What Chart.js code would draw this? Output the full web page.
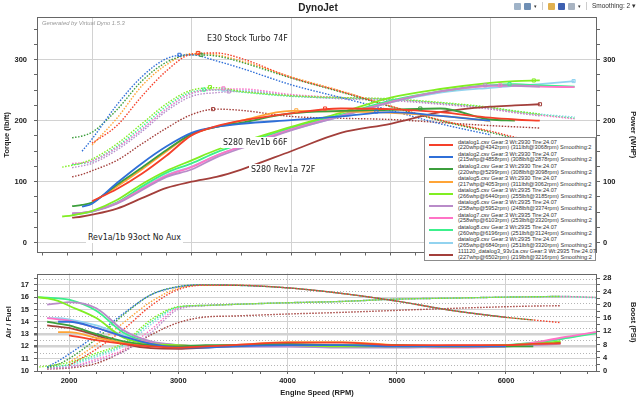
<!DOCTYPE html>
<html>
<head>
<meta charset="utf-8">
<script src="https://cdn.jsdelivr.net/npm/chart.js@4.4.0/dist/chart.umd.min.js"></script>
<style>
  html, body { margin: 0; padding: 0; background: #fff; }
  #wrap { position: relative; width: 640px; height: 399px; overflow: hidden; font-family: "Liberation Sans", Arial, sans-serif; }
  canvas { position: absolute; left: 0; }
  #topChart { top: 0; }
  #bottomChart { top: 264px; }
  .title { position: absolute; left: 0; width: 636px; top: 2px; text-align: center; font-weight: bold; font-size: 10px; color: #222; }
  .gen { position: absolute; left: 42px; top: 20px; font-style: italic; font-size: 5.8px; color: #999; }
  .tools { position: absolute; right: 4px; top: 2px; font-size: 6.5px; color: #333; display: flex; align-items: center; gap: 3px; }
  .ico { display: inline-block; width: 7px; height: 7px; border-radius: 1px; }
  .sep { display: inline-block; width: 1px; height: 8px; background: #ccc; margin: 0 2px; }
  .note { position: absolute; background: #fff; font-family: "Liberation Sans Narrow", "DejaVu Sans Condensed", sans-serif; font-size: 8.8px; line-height: 11px; padding: 0 2px; color: #222; white-space: nowrap; }
  #legend { position: absolute; left: 424px; top: 137px; width: 172px; height: 124px; background: #fff; border: 1px solid #8c8c8c; box-sizing: border-box; padding-top: 1px; }
  .row { position: relative; height: 12.2px; }
  .sw { position: absolute; left: 4px; top: 5px; width: 24px; height: 2px; }
  .txt { position: absolute; left: 33px; top: 0.5px; font-size: 5.6px; line-height: 5.8px; color: #333; white-space: nowrap; }
</style>
</head>
<body>
<div id="wrap">
  <canvas id="topChart" width="640" height="264"></canvas>
  <canvas id="bottomChart" width="640" height="135"></canvas>
  <div class="title">DynoJet</div>
  <div class="tools">
    <span class="ico" style="background:#9fb3c8"></span>
    <span class="ico" style="background:#6f8fb5"></span><span style="font-size:5px">▾</span>
    <span class="sep"></span>
    <span class="ico" style="background:#e0b050"></span>
    <span class="ico" style="background:#3d5fb0"></span>
    <span class="ico" style="background:#a9b4c2"></span><span style="font-size:5px">▾</span>
    <span class="sep"></span>
    <span>Smoothing: 2 ▾</span>
  </div>
  <div class="gen">Generated by Virtual Dyno 1.5.3</div>
  <div class="note" style="left:205px; top:33px;">E30 Stock Turbo 74F</div>
  <div class="note" style="left:221px; top:137px;">S280 Rev1b 66F</div>
  <div class="note" style="left:249px; top:164px;">S280 Rev1a 72F</div>
  <div class="note" style="left:86px; top:232px;">Rev1a/1b 93oct No Aux</div>
  <div id="legend"></div>
</div>
<script>
// rpm points shared by every run (null = run not recorded there)
const rpm = [1700, 1800, 1900, 2000, 2250, 2500, 2750, 3000, 3250, 3500, 4000, 4500, 5000, 5500, 6000, 6250, 6500, 6850];

const runFiles = ["datalog1.csv", "datalog2.csv", "datalog3.csv", "datalog5.csv", "datalog5.csv",
  "datalog6.csv", "datalog7.csv", "datalog8.csv", "datalog9.csv", "111120_datalog3_93v1a.csv"];
const runWeights = [2930, 2930, 2930, 2930, 2935, 2935, 2935, 2935, 2935, 2935];
const runColors = ["#f5402a", "#2f6fd8", "#3c9e3c", "#ffa436", "#80ee22",
  "#b98bc9", "#ff73c6", "#3cf08c", "#92d3ef", "#a33f3b"];

const peakPower = [220, 215, 220, 217, 266, 258, 258, 260, 265, 227];
const peakPowerRpm = [4342, 4858, 5299, 4053, 6440, 5952, 6103, 6196, 6840, 6502];
const peakTorque = [311, 308, 308, 311, 255, 248, 253, 251, 251, 219];
const peakTorqueRpm = [3068, 2878, 3098, 3062, 3185, 3374, 3320, 3124, 3320, 3216];

const n = null;
// torque (lb/ft), one row per run
const torqueRuns = [
  [n, n, n, 163, 192, 240, 282, 309, 311, 302, 271, 248, 224, 201, 183, 173, 164, n],
  [n, n, 150, 170, 226, 272, 302, 308, 298, 286, 259, 238, 217, 195, 177, n, n, n],
  [n, 172, 175, 181, 218, 265, 296, 308, 306, 296, 270, 247, 223, 200, 181, 171, n, n],
  [n, n, n, 160, 204, 257, 292, 310, 308, 298, 272, 249, 224, 201, 182, n, n, n],
  [124, 127, 131, 137, 162, 195, 228, 250, 254, 248, 241, 238, 236, 230, 222, 216, 211, n],
  [n, 123, 126, 130, 152, 182, 216, 240, 246, 248, 241, 236, 233, 227, 219, 213, 208, n],
  [n, 130, 131, 134, 156, 186, 220, 245, 251, 252, 243, 238, 235, 228, 220, 214, 209, 203],
  [n, 128, 130, 134, 158, 190, 224, 247, 251, 247, 240, 237, 235, 229, 221, 215, 210, 204],
  [n, 129, 130, 133, 155, 185, 219, 244, 250, 250, 242, 238, 235, 229, 221, 216, 211, 206],
  [n, 108, 112, 118, 135, 162, 188, 210, 219, 217, 207, 204, 202, 197, 192, 190, 188, n]
];
// power (WHP)
const powerRuns = [
  [n, n, n, 68, 88, 113, 143, 176, 191, 200, 212, 220, 219, 214, 205, 202, 200, n],
  [n, n, 59, 64, 98, 130, 158, 180, 190, 195, 201, 207, 214, 208, 200, n, n, n],
  [n, 60, 62, 66, 95, 123, 152, 178, 190, 197, 212, 216, 218, 220, 202, 200, n, n],
  [n, n, n, 66, 92, 120, 150, 178, 190, 200, 216, 215, 213, 208, 200, n, n, n],
  [43, 45, 48, 52, 70, 96, 118, 135, 152, 165, 190, 213, 238, 252, 262, 265, 266, n],
  [n, 48, 49, 51, 64, 86, 108, 120, 140, 155, 184, 207, 230, 248, 258, 257, 256, n],
  [n, 48, 49, 52, 65, 88, 110, 124, 143, 158, 186, 208, 231, 248, 257, 258, 256, 255],
  [n, 46, 48, 51, 66, 92, 115, 130, 148, 162, 188, 210, 233, 248, 258, 260, 258, 256],
  [n, 47, 49, 52, 66, 89, 111, 125, 143, 158, 185, 207, 230, 246, 254, 257, 260, 265],
  [n, 41, 43, 46, 56, 73, 90, 100, 108, 120, 150, 180, 195, 214, 223, 225, 227, n]
];
// air / fuel ratio
const afrRuns = [
  [n, n, n, 12.9, 12.5, 12.2, 12.0, 11.9, 12.0, 12.1, 12.3, 12.3, 12.1, 12.1, 12.1, 12.2, 12.25, n],
  [n, n, 14.0, 14.0, 13.5, 12.8, 12.2, 11.9, 11.9, 12.0, 12.1, 12.1, 12.0, 12.0, 12.0, n, n, n],
  [n, 14.0, 13.85, 13.7, 13.0, 12.4, 12.1, 12.0, 12.1, 12.1, 12.2, 12.1, 12.1, 12.0, 12.0, 12.0, n, n],
  [n, n, 13.15, 13.15, 12.7, 12.3, 12.1, 12.0, 12.0, 12.1, 12.35, 12.35, 12.1, 12.0, 12.0, n, n, n],
  [16.0, 15.9, 15.7, 15.3, 14.3, 12.7, 12.2, 12.1, 12.0, 12.1, 12.1, 12.0, 12.0, 12.0, 12.1, 12.2, 12.4, n],
  [n, 15.4, 15.5, 15.6, 15.1, 13.3, 12.4, 12.1, 12.0, 12.0, 12.0, 11.9, 11.9, 12.0, 12.0, 12.1, 12.2, n],
  [n, 14.3, 14.2, 14.1, 13.5, 12.8, 12.3, 12.1, 12.0, 12.0, 12.0, 11.95, 11.95, 11.9, 12.0, 12.3, 12.7, 13.2],
  [16.0, 15.95, 15.9, 15.8, 14.9, 13.1, 12.3, 12.1, 12.0, 12.0, 12.1, 12.0, 12.0, 12.0, 12.1, 12.3, 12.6, 13.1],
  [n, 14.3, 14.3, 14.2, 13.7, 12.9, 12.3, 12.1, 12.0, 12.0, 12.0, 11.95, 11.95, 11.95, 12.0, 12.2, 12.6, 13.2],
  [n, 13.7, 13.6, 13.5, 12.9, 12.2, 11.85, 11.8, 11.9, 12.0, 12.05, 12.0, 12.0, 12.05, 12.1, 12.2, 12.3, n]
];
// boost (PSI)
const boostRuns = [
  [n, n, n, 1.7, 6.6, 12.6, 19.7, 24.6, 25.9, 25.9, 25.1, 23.4, 21.1, 18.3, 16.2, 15.4, 14.6, n],
  [n, 1.2, 3.0, 5.1, 10.9, 17.4, 23.0, 25.4, 26.0, 25.9, 25.1, 23.4, 21.1, 18.3, 16.2, n, n, n],
  [n, 1.0, 2.0, 3.7, 9.7, 17.0, 23.0, 25.5, 26.0, 25.9, 25.1, 23.4, 21.1, 18.3, 16.2, 15.4, n, n],
  [n, n, n, 2.6, 8.0, 14.6, 20.9, 25.0, 25.9, 25.9, 25.1, 23.4, 21.1, 18.3, 16.2, n, n, n],
  [1.1, 1.5, 2.0, 2.6, 5.4, 8.5, 15.5, 19.4, 19.8, 20.1, 20.6, 21.0, 21.7, 22.0, 22.3, 22.4, 22.5, n],
  [n, 0.7, 0.9, 1.1, 3.0, 5.8, 11.5, 18.6, 19.7, 20.1, 20.6, 21.0, 21.7, 22.0, 22.3, 22.4, 22.5, n],
  [n, 0.8, 1.0, 1.2, 3.5, 6.5, 12.5, 19.0, 19.8, 20.1, 20.6, 21.0, 21.7, 22.0, 22.3, 22.4, 22.5, 22.2],
  [n, 1.0, 1.4, 2.0, 4.8, 8.0, 14.8, 19.3, 19.8, 20.1, 20.6, 21.0, 21.7, 22.0, 22.3, 22.4, 22.5, 22.2],
  [n, 0.9, 1.2, 1.6, 4.2, 7.5, 14.0, 19.2, 19.8, 20.1, 20.6, 21.0, 21.7, 22.0, 22.3, 22.4, 22.5, 22.0],
  [n, 0.6, 0.7, 0.9, 2.3, 6.0, 10.9, 14.6, 16.3, 16.6, 17.2, 17.7, 18.3, 18.9, 19.4, 19.6, 19.7, n]
];

// axis ticks
const rpmLabels = [2000, 3000, 4000, 5000, 6000];
const torqueLabels = [0, 100, 200, 300];
const afrLabels = [10, 11, 12, 13, 14, 15, 16, 17];
const boostLabels = [0, 4, 8, 12, 16, 20, 24, 28];

function steps(from, to, step) {
  const out = [];
  for (let v = from; v <= to + 1e-9; v += step) out.push(+v.toFixed(2));
  return out;
}
const topRpmTicks = steps(1500, 7000, 250);
const bottomRpmTicks = steps(1750, 6750, 250);
const torqueTicks = steps(0, 350, 25);
const afrTicks = steps(10, 17.5, 0.5);
const boostTicks = steps(0, 28, 2);

const tickFont = { family: "Liberation Sans, Arial, sans-serif", size: 7.5, weight: "bold" };
const GRID = "#d2d2d2";

function series(values) {
  return rpm.map((r, j) => ({ x: r, y: values[j] }));
}
function setTicks(list) {
  return axis => { axis.ticks = list.map(v => ({ value: v })); };
}

// frame around the plot area + optional dotted half lines
const framePlugin = {
  id: "frame",
  beforeDatasetsDraw(chart, args, opts) {
    if (!opts.dotted) return;
    const { ctx, chartArea: a } = chart;
    const s = chart.scales[opts.dotted.axis];
    ctx.save();
    ctx.setLineDash([1, 2]);
    ctx.strokeStyle = "#b5b5b5";
    ctx.lineWidth = 1;
    opts.dotted.values.forEach(v => {
      const y = Math.round(s.getPixelForValue(v)) + 0.5;
      ctx.beginPath(); ctx.moveTo(a.left, y); ctx.lineTo(a.right, y); ctx.stroke();
    });
    ctx.restore();
  },
  afterDatasetsDraw(chart) {
    const { ctx, chartArea: a } = chart;
    ctx.save();
    ctx.strokeStyle = "#666";
    ctx.lineWidth = 1;
    ctx.strokeRect(Math.round(a.left) + 0.5, Math.round(a.top) + 0.5,
      Math.round(a.right - a.left) - 1, Math.round(a.bottom - a.top) - 1);
    ctx.restore();
  }
};
Chart.register(framePlugin);

// ---------- top chart: torque (dotted) and power (solid) ----------
const topSets = [];
runColors.forEach((c, i) => {
  topSets.push({
    data: [{ x: peakTorqueRpm[i], y: peakTorque[i] }, { x: peakPowerRpm[i], y: peakPower[i] }],
    showLine: false, pointStyle: "rect", pointRadius: 2.2, borderWidth: 1,
    pointBorderColor: c, pointBackgroundColor: "rgba(255,255,255,0)", yAxisID: "y"
  });
});
runColors.forEach((c, i) => {
  topSets.push({
    data: series(powerRuns[i]), borderColor: c, borderWidth: 1.8,
    pointRadius: 0, cubicInterpolationMode: "monotone", yAxisID: "y"
  });
});
runColors.forEach((c, i) => {
  topSets.push({
    data: series(torqueRuns[i]), borderColor: c, borderWidth: 1.4, borderDash: [1.5, 1.5],
    pointRadius: 0, cubicInterpolationMode: "monotone", yAxisID: "y"
  });
});

new Chart(document.getElementById("topChart"), {
  type: "line",
  data: { datasets: topSets },
  options: {
    responsive: false,
    animation: false,
    layout: { padding: { top: 17, left: 0, right: 0, bottom: 0 } },
    plugins: { legend: { display: false }, tooltip: { enabled: false }, frame: {} },
    scales: {
      x: {
        type: "linear", min: 1447, max: 7075,
        afterBuildTicks: setTicks(topRpmTicks),
        ticks: { display: false, autoSkip: false },
        grid: {
          color: c => rpmLabels.includes(c.tick && c.tick.value) ? GRID : "rgba(0,0,0,0)",
          tickColor: "#666", tickLength: 3
        },
        border: { display: false },
        afterFit: s => { s.height = 4; }
      },
      y: {
        position: "left", min: -16, max: 370,
        afterBuildTicks: setTicks(torqueTicks),
        ticks: { autoSkip: false, font: tickFont, color: "#222", padding: 7,
          callback: v => torqueLabels.includes(v) ? String(v) : "" },
        grid: {
          color: c => torqueLabels.includes(c.tick && c.tick.value) ? GRID : "rgba(0,0,0,0)",
          tickColor: "#666", tickLength: 3
        },
        border: { display: false },
        title: { display: true, text: "Torque (lb/ft)", font: tickFont, color: "#222", padding: { top: 2, bottom: 0 } },
        afterFit: s => { s.width = 37; }
      },
      y2: {
        position: "right", min: -16, max: 370,
        afterBuildTicks: setTicks(torqueTicks),
        ticks: { autoSkip: false, font: tickFont, color: "#222", padding: 3,
          callback: v => torqueLabels.includes(v) ? String(v) : "" },
        grid: { drawOnChartArea: false, tickColor: "#666", tickLength: 3 },
        border: { display: false },
        title: { display: true, text: "Power (WHP)", font: tickFont, color: "#222", padding: { top: 2, bottom: 4 } },
        afterFit: s => { s.width = 43; }
      }
    }
  }
});

// ---------- bottom chart: air/fuel (solid) and boost (dotted) ----------
const bottomSets = [];
runColors.forEach((c, i) => {
  bottomSets.push({
    data: series(afrRuns[i]), borderColor: c, borderWidth: 1.8,
    pointRadius: 0, cubicInterpolationMode: "monotone", yAxisID: "y"
  });
});
runColors.forEach((c, i) => {
  bottomSets.push({
    data: series(boostRuns[i]), borderColor: c, borderWidth: 1.4, borderDash: [1.5, 1.5],
    pointRadius: 0, cubicInterpolationMode: "monotone", yAxisID: "y2"
  });
});

new Chart(document.getElementById("bottomChart"), {
  type: "line",
  data: { datasets: bottomSets },
  options: {
    responsive: false,
    animation: false,
    layout: { padding: { top: 4, left: 0, right: 0, bottom: 0 } },
    plugins: {
      legend: { display: false }, tooltip: { enabled: false },
      frame: { dotted: { axis: "y", values: afrTicks.filter(v => !afrLabels.includes(v)) } }
    },
    scales: {
      x: {
        type: "linear", min: 1707, max: 6833,
        afterBuildTicks: setTicks(bottomRpmTicks),
        ticks: { autoSkip: false, maxRotation: 0, font: tickFont, color: "#222", padding: 2,
          callback: v => rpmLabels.includes(v) ? String(v) : "" },
        grid: {
          color: c => rpmLabels.includes(c.tick && c.tick.value) ? GRID : "rgba(0,0,0,0)",
          tickColor: "#666", tickLength: 3
        },
        border: { display: false },
        title: { display: true, text: "Engine Speed (RPM)", font: tickFont, color: "#222", padding: { top: 1, bottom: 2 } },
        afterFit: s => { s.height = 28; }
      },
      y: {
        position: "left", min: 10, max: 17.92,
        afterBuildTicks: setTicks(afrTicks),
        ticks: { autoSkip: false, font: tickFont, color: "#222", padding: 5,
          callback: v => afrLabels.includes(v) ? String(v) : "" },
        grid: {
          color: c => afrLabels.includes(c.tick && c.tick.value) ? GRID : "rgba(0,0,0,0)",
          lineWidth: c => (c.tick && (c.tick.value === 12 || c.tick.value === 13)) ? 2.5 : 1,
          tickColor: "#666", tickLength: 3
        },
        border: { display: false },
        title: { display: true, text: "Air / Fuel", font: tickFont, color: "#222", padding: { top: 4, bottom: 0 } },
        afterFit: s => { s.width = 37; }
      },
      y2: {
        position: "right", min: 0, max: 29.43,
        afterBuildTicks: setTicks(boostTicks),
        ticks: { autoSkip: false, font: tickFont, color: "#222", padding: 3,
          callback: v => boostLabels.includes(v) ? String(v) : "" },
        grid: { drawOnChartArea: false, tickColor: "#666", tickLength: 3 },
        border: { display: false },
        title: { display: true, text: "Boost (PSI)", font: tickFont, color: "#222", padding: { top: 2, bottom: 6 } },
        afterFit: s => { s.width = 43; }
      }
    }
  }
});

// legend box
const legendEl = document.getElementById("legend");
runFiles.forEach((f, i) => {
  const row = document.createElement("div");
  row.className = "row";
  row.innerHTML =
    '<span class="sw" style="background:' + runColors[i] + '"></span>' +
    '<span class="txt">' + f + " Gear:3 Wt:" + runWeights[i] + " Tire:24.07<br>(" +
    peakPower[i] + "whp@" + peakPowerRpm[i] + "rpm) (" + peakTorque[i] + "lbft@" +
    peakTorqueRpm[i] + "rpm) Smoothing:2</span>";
  legendEl.appendChild(row);
});
</script>
</body>
</html>
